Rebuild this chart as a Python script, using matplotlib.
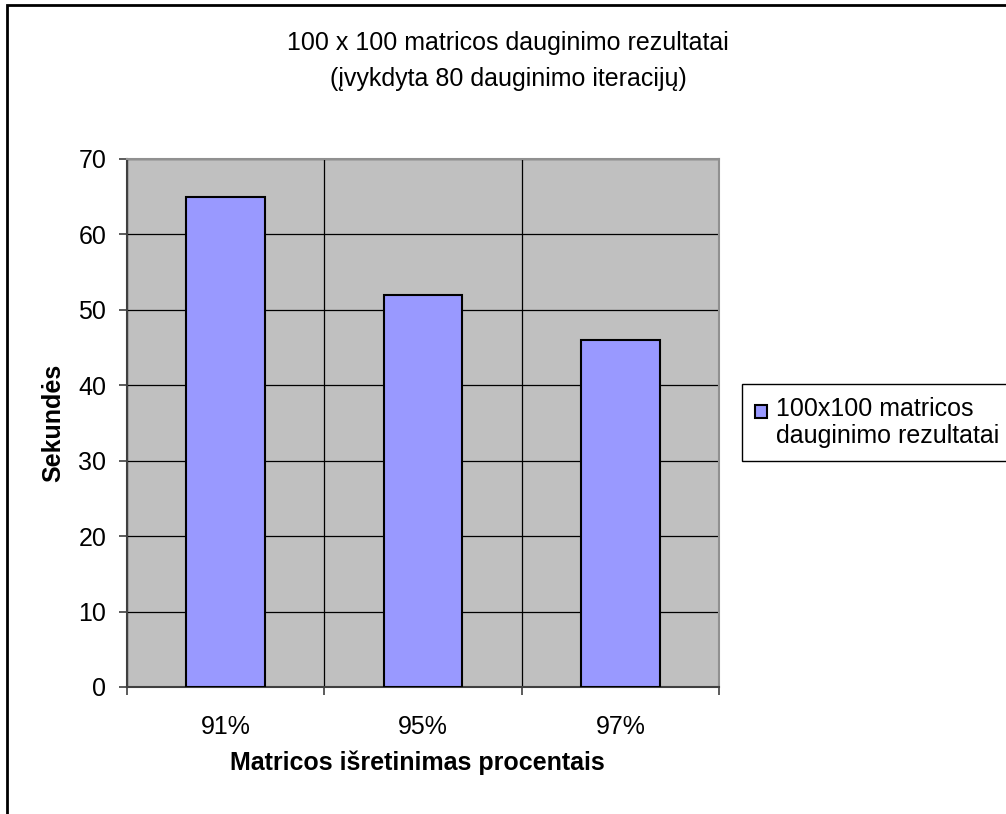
import matplotlib.pyplot as plt
import matplotlib.patches as mpatches
import matplotlib.ticker as mticker
from matplotlib.container import BarContainer
from matplotlib.legend_handler import HandlerPatch, update_from_first_child

# sparse matrix multiplication timings (100 x 100, 80 iterations)
sparsity = ['91%', '95%', '97%']
seconds = [65, 52, 46]
series_name = '100x100 matricos\ndauginimo rezultatai'

plt.rcParams['font.family'] = ['Liberation Sans', 'DejaVu Sans']
FS = 18

W, H = 1006, 814
fig = plt.figure(figsize=(W / 100, H / 100), dpi=100)

# outer chart frame (right and bottom edges fall outside the canvas)
fig.patches.append(mpatches.Rectangle((7 / W, -0.1), 1.2, 1 - 5 / H + 0.1,
                                      transform=fig.transFigure,
                                      facecolor='none', edgecolor='black',
                                      linewidth=2))

ax = fig.add_axes([127 / W, 1 - 687 / H, (719 - 127) / W, (687 - 159) / H])
ax.set_facecolor('#C0C0C0')

x = range(len(sparsity))
bars = ax.bar(x, seconds, width=0.4, color='#9999FF', edgecolor='black',
              linewidth=1.5, zorder=3, label=series_name)

ax.set_xlim(-0.5, len(sparsity) - 0.5)
ax.set_ylim(0, 70)
ax.yaxis.set_major_locator(mticker.MultipleLocator(10))

# category boundaries as major ticks, names centred under the bars
ax.xaxis.set_major_locator(mticker.FixedLocator([-0.5, 0.5, 1.5, 2.5]))
ax.xaxis.set_major_formatter(mticker.NullFormatter())
ax.xaxis.set_minor_locator(mticker.FixedLocator(list(x)))
ax.xaxis.set_minor_formatter(mticker.FixedFormatter(sparsity))
ax.tick_params(axis='x', which='minor', length=0, pad=20, labelsize=FS)
ax.tick_params(axis='x', which='major', length=6, width=1.2, color='#404040')
ax.tick_params(axis='y', length=6, width=1.2, color='#404040', pad=9,
               labelsize=FS)

ax.grid(True, which='major', color='black', linewidth=0.9, zorder=1)
ax.set_axisbelow(True)

for side in ('left', 'bottom'):
    ax.spines[side].set_color('#404040')
    ax.spines[side].set_linewidth(1.5)
for side in ('top', 'right'):
    ax.spines[side].set_color('#909090')
    ax.spines[side].set_linewidth(1.5)

ax.set_ylabel('Sekundės', fontsize=FS, fontweight='bold')
ax.yaxis.set_label_coords(-0.105, 0.5)
ax.set_xlabel('Matricos išretinimas procentais', fontsize=FS,
              fontweight='bold')
ax.xaxis.set_label_coords(0.5 - 6 / 592, -0.12)

# title is centred on the whole chart frame, not on the plot area
fig.text(508 / W, 1 - 61 / H,
         '100 x 100 matricos dauginimo rezultatai\n'
         '(įvykdyta 80 dauginimo iteracijų)',
         ha='center', va='center', fontsize=FS, linespacing=1.6)


# small square key sitting next to the first line of the label
def top_square(legend, orig_handle, xdescent, ydescent, width, height,
               fontsize):
    s = 0.5 * fontsize
    return mpatches.Rectangle((-xdescent, -ydescent + height - s), s, s)


leg = fig.legend(loc='upper left', bbox_to_anchor=(742 / W, 1 - 384 / H),
                 borderaxespad=0, fontsize=FS, fancybox=False,
                 edgecolor='black', framealpha=1, handlelength=0.5,
                 handleheight=1.9, handletextpad=0.35, borderpad=0.5,
                 handler_map={BarContainer: HandlerPatch(
                     patch_func=top_square,
                     update_func=update_from_first_child)})
leg.get_frame().set_linewidth(1.0)

fig.savefig('out.png', dpi=100)
